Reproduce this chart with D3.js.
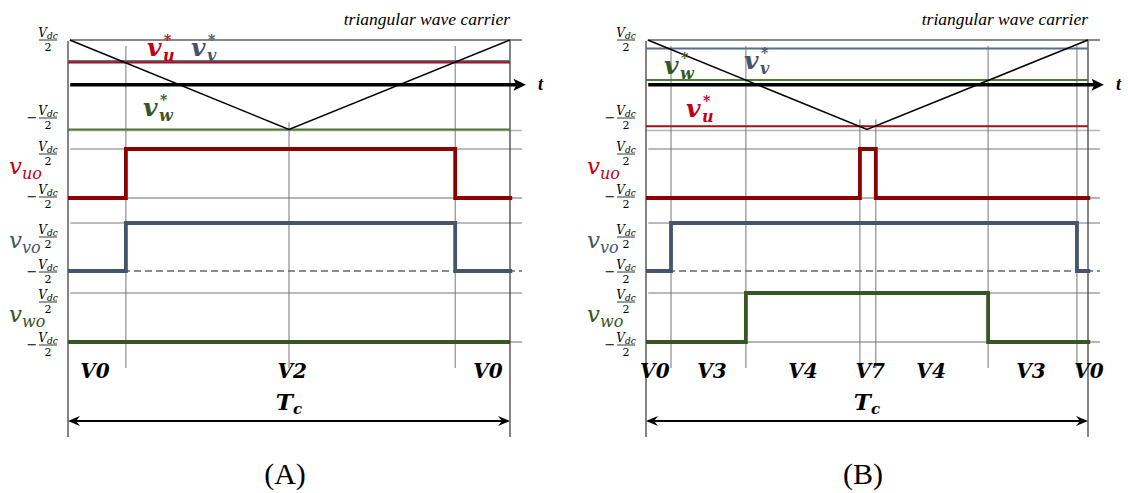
<!DOCTYPE html>
<html>
<head>
<meta charset="utf-8">
<script src="https://cdn.jsdelivr.net/npm/d3@7"></script>
<style>
  body { margin: 0; background: #fff; }
  svg { display: block; }
</style>
</head>
<body>
<svg id="chart" width="1128" height="493"></svg>
<script>
// ---- data (time is a fraction of the carrier period Tc, levels in units of Vdc/2) ----
const captions = ["(A)", "(B)"];
const carrierTitle = "triangular wave carrier";
const carrierT = [0, 0.5, 1];
const carrierV = [1, -1, 1];

// reference (modulating) signals v*
const refU = [0.5, -0.93];
const refV = [0.53, 0.81];
const refW = [-1, 0.106];

// output pulses: [rise, fall] of each phase, null = stays low
const uoHigh = [[0.131, 0.876], [0.484, 0.52]];
const voHigh = [[0.131, 0.876], [0.0566, 0.975]];
const woHigh = [null, [0.226, 0.774]];

// switching instants and the reference level they cross
const switchT = [[0.131, 0.5, 0.876], [0.0566, 0.226, 0.484, 0.52, 0.774, 0.975]];
const switchLevel = [[0.5, -1, 0.5], [0.81, 0.106, -0.93, -0.93, 0.106, 0.81]];

// voltage vector labels
const vecNames = [["V0", "V2", "V0"], ["V0", "V3", "V4", "V7", "V4", "V3", "V0"]];
const vecT = [[0.061, 0.507, 0.95], [0.02, 0.149, 0.355, 0.507, 0.645, 0.871, 1.002]];

// ---- layout ----
const panelLeft = [68, 646];
const panelW = 442;
const traceEnd = 1.005;
const lineEnd = 1.027;

const colors = {
  u: "#8b0000", uRef: "#a50f15", uTxt: "#c00018",
  v: "#44546a", vRef: "#5b6e8e", vTxt: "#44546a",
  w: "#375623", wRef: "#4f7a34", wTxt: "#375623"
};

// reference label placement per panel (offset from panel left, baseline)
const refLabelPos = [
  { u: [79, 56], v: [123, 56], w: [75, 116] },
  { u: [40, 117], v: [98, 69], w: [18, 74] }
];

const svg = d3.select("#chart");
const mathFont = "'DejaVu Serif', serif";
const serif = "'Liberation Serif', 'Times New Roman', serif";

const rows = [
  { key: "u", sub: "uo", y: d3.scaleLinear().domain([-1, 1]).range([198, 149]), lowStyle: "solid", labelY: 174, fracPlus: 154, fracMinus: 197 },
  { key: "v", sub: "vo", y: d3.scaleLinear().domain([-1, 1]).range([271, 223]), lowStyle: "dash", labelY: 248, fracPlus: 237, fracMinus: 272 },
  { key: "w", sub: "wo", y: d3.scaleLinear().domain([-1, 1]).range([342, 293]), lowStyle: "solid", labelY: 322, fracPlus: 302, fracMinus: 345 }
];
const highOf = { u: uoHigh, v: voHigh, w: woHigh };
const refOf = { u: refU, v: refV, w: refW };

function fraction(g, cx, barY, neg) {
  const t = g.append("text")
    .attr("x", cx).attr("y", barY - 3)
    .attr("text-anchor", "middle")
    .style("font-family", mathFont).style("font-size", "12px").style("font-style", "italic");
  t.append("tspan").text("V");
  t.append("tspan").attr("dy", 2).style("font-size", "9px").text("dc");
  g.append("line")
    .attr("x1", cx - 9).attr("x2", cx + 9)
    .attr("y1", barY).attr("y2", barY)
    .attr("stroke", "#000").attr("stroke-width", 0.8);
  g.append("text")
    .attr("x", cx).attr("y", barY + 11)
    .attr("text-anchor", "middle")
    .style("font-family", mathFont).style("font-size", "11px")
    .text("2");
  if (neg) {
    g.append("text")
      .attr("x", cx - 16).attr("y", barY + 4)
      .attr("text-anchor", "middle")
      .style("font-family", mathFont).style("font-size", "13px")
      .text("\u2212");
  }
}

function refLabel(g, x, y, main, sub, color) {
  const s = { "font-family": mathFont, "font-style": "italic", "font-weight": "bold", fill: color };
  const a = g.append("text").attr("x", x).attr("y", y).style("font-size", "25px").text(main);
  const b = g.append("text").attr("x", x + 17).attr("y", y - 11).style("font-size", "14px").text("*");
  const c = g.append("text").attr("x", x + 16).attr("y", y + 5).style("font-size", "16px").text(sub);
  [a, b, c].forEach(t => Object.entries(s).forEach(([k, v]) => t.style(k, v)));
}

function drawPanel(p) {
  const g = svg.append("g");
  const left = panelLeft[p];
  const x = d3.scaleLinear().domain([0, 1]).range([left, left + panelW]);
  const yCar = d3.scaleLinear().domain([-1, 1]).range([129.5, 40]);

  // top reference line and -Vdc/2 line of carrier
  g.append("line")
    .attr("x1", x(0.005)).attr("x2", x(lineEnd))
    .attr("y1", yCar(1)).attr("y2", yCar(1))
    .attr("stroke", "#888").attr("stroke-width", 2);
  g.append("line")
    .attr("x1", x(0)).attr("x2", x(lineEnd))
    .attr("y1", yCar(-1) + 1).attr("y2", yCar(-1) + 1)
    .attr("stroke", "#b5b5b5").attr("stroke-width", 1.5);

  // row reference lines
  rows.forEach(r => {
    g.append("line")
      .attr("x1", x(0.005)).attr("x2", x(lineEnd))
      .attr("y1", r.y(1)).attr("y2", r.y(1))
      .attr("stroke", "#777").attr("stroke-width", 1);
    g.append("line")
      .attr("x1", x(0)).attr("x2", x(lineEnd))
      .attr("y1", r.y(-1)).attr("y2", r.y(-1))
      .attr("stroke", r.lowStyle === "dash" ? "#666" : "#b5b5b5")
      .attr("stroke-width", r.lowStyle === "dash" ? 1.5 : 2)
      .attr("stroke-dasharray", r.lowStyle === "dash" ? "7,4" : null);
  });

  // switching instants
  g.selectAll("line.sw")
    .data(switchT[p].map((t, i) => ({ t, lv: switchLevel[p][i] })))
    .join("line")
    .attr("class", "sw")
    .attr("x1", d => x(d.t)).attr("x2", d => x(d.t))
    .attr("y1", d => d.lv < -0.8 ? yCar(d.lv) - 7 : 46)
    .attr("y2", 368)
    .attr("stroke", "#777").attr("stroke-width", 1);

  // period borders
  [0, 1].forEach(t => {
    g.append("line")
      .attr("x1", x(t)).attr("x2", x(t))
      .attr("y1", 41).attr("y2", 437)
      .attr("stroke", "#333").attr("stroke-width", 1.2);
  });

  // modulating signals
  ["v", "w", "u"].forEach(k => {
    g.append("line")
      .attr("x1", x(0)).attr("x2", x(1))
      .attr("y1", yCar(refOf[k][p])).attr("y2", yCar(refOf[k][p]))
      .attr("stroke", colors[k + "Ref"]).attr("stroke-width", 2);
  });

  // time axis
  const axY = yCar(0);
  g.append("line")
    .attr("x1", x(0.005)).attr("x2", x(1.02))
    .attr("y1", axY).attr("y2", axY)
    .attr("stroke", "#000").attr("stroke-width", 3.5);
  g.append("path")
    .attr("d", `M${x(1.036)},${axY} L${x(1.008)},${axY - 6} L${x(1.014)},${axY} L${x(1.008)},${axY + 6} Z`)
    .attr("fill", "#000");
  g.append("text")
    .attr("x", x(1) + 28).attr("y", axY + 5)
    .style("font-family", serif).style("font-style", "italic").style("font-weight", "bold")
    .style("font-size", "18px")
    .text("t");

  // carrier
  g.append("path")
    .datum(carrierT.map((t, i) => [t, carrierV[i]]))
    .attr("d", d3.line().x(d => x(d[0] === 0 ? 0.004 : d[0])).y(d => yCar(d[1])))
    .attr("fill", "none").attr("stroke", "#000").attr("stroke-width", 1.5);

  g.append("text")
    .attr("x", x(1)).attr("y", 25)
    .attr("text-anchor", "end")
    .style("font-family", serif).style("font-style", "italic").style("font-size", "17.5px")
    .text(carrierTitle);

  // phase outputs
  const stepLine = d3.line().curve(d3.curveStepAfter);
  rows.forEach(r => {
    const h = highOf[r.key][p];
    const pts = h ? [[0, -1], [h[0], 1], [h[1], -1], [traceEnd, -1]] : [[0, -1], [1, -1]];
    g.append("path")
      .datum(pts)
      .attr("d", stepLine.x(d => x(d[0])).y(d => r.y(d[1])))
      .attr("fill", "none").attr("stroke", colors[r.key]).attr("stroke-width", 3.8);

    // row name
    const lt = g.append("text")
      .attr("x", left - 59).attr("y", r.labelY)
      .style("font-family", mathFont).style("font-style", "italic")
      .style("fill", colors[r.key + "Txt"]);
    lt.append("tspan").style("font-size", "23px").text("v");
    lt.append("tspan").attr("dy", 5).style("font-size", "16px").text(r.sub);

    fraction(g, left - 20, r.fracPlus, false);
    fraction(g, left - 20, r.fracMinus, true);
  });
  fraction(g, left - 20, 40, false);
  fraction(g, left - 20, 118, true);

  // reference labels
  const lp = refLabelPos[p];
  refLabel(g, left + lp.u[0], lp.u[1], "v", "u", colors.uTxt);
  refLabel(g, left + lp.v[0], lp.v[1], "v", "v", colors.vTxt);
  refLabel(g, left + lp.w[0], lp.w[1], "v", "w", colors.wTxt);

  // voltage vectors
  g.selectAll("text.vec")
    .data(vecNames[p].map((n, i) => ({ n, t: vecT[p][i] })))
    .join("text")
    .attr("class", "vec")
    .attr("x", d => x(d.t)).attr("y", 378)
    .attr("text-anchor", "middle")
    .style("font-family", mathFont).style("font-style", "italic").style("font-weight", "bold")
    .style("font-size", "20px")
    .text(d => d.n);

  // Tc dimension
  const yTc = 421;
  g.append("line")
    .attr("x1", x(0) + 2).attr("x2", x(1) - 2)
    .attr("y1", yTc).attr("y2", yTc)
    .attr("stroke", "#000").attr("stroke-width", 2);
  g.append("path")
    .attr("d", `M${x(0)},${yTc} L${x(0) + 12},${yTc - 5} L${x(0) + 8},${yTc} L${x(0) + 12},${yTc + 5} Z`)
    .attr("fill", "#000");
  g.append("path")
    .attr("d", `M${x(1)},${yTc} L${x(1) - 12},${yTc - 5} L${x(1) - 8},${yTc} L${x(1) - 12},${yTc + 5} Z`)
    .attr("fill", "#000");
  const tc = g.append("text")
    .attr("x", x(0.5)).attr("y", 410)
    .attr("text-anchor", "middle")
    .style("font-family", mathFont).style("font-style", "italic").style("font-weight", "bold");
  tc.append("tspan").style("font-size", "23px").text("T");
  tc.append("tspan").attr("dy", 4).style("font-size", "15px").text("c");

  g.append("text")
    .attr("x", x(0.5) - 4).attr("y", 484)
    .attr("text-anchor", "middle")
    .style("font-family", serif).style("font-size", "30px")
    .text(captions[p]);
}

[0, 1].forEach(drawPanel);
</script>
</body>
</html>
